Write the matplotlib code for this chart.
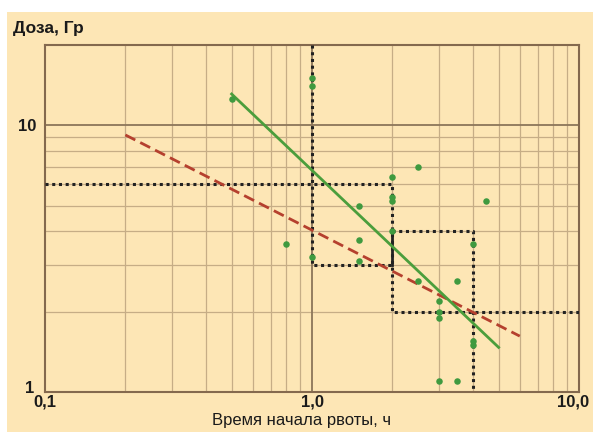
import matplotlib
matplotlib.use('Agg')
import matplotlib.pyplot as plt
from matplotlib.patches import Rectangle
from matplotlib.transforms import ScaledTranslation

plt.rcParams['font.family'] = ['Liberation Sans', 'DejaVu Sans']

# points: onset of vomiting (h) vs dose (Gy)
time_h = [0.5, 0.8, 1, 1, 1, 1.5, 1.5, 1.5, 2, 2, 2, 2, 2.5, 2.5,
          3, 3, 3, 3, 3.5, 3.5, 4, 4, 4, 4.5]
dose_gy = [12.5, 3.6, 15, 14, 3.2, 5.0, 3.7, 3.1, 6.4, 5.4, 5.2, 4.0, 7.0, 2.6,
           2.2, 2.0, 1.9, 1.1, 2.6, 1.1, 3.6, 1.5, 1.55, 5.2]

# regression lines (end points)
green_x = [0.5, 5.0]
green_y = [13.1, 1.47]
red_x = [0.2, 6.0]
red_y = [9.2, 1.62]

# dotted guide steps
step1_x, step1_y = [0.1, 2, 2, 10], [6, 6, 2, 2]
step2_x, step2_y = [1, 1, 2], [20, 3, 3]
step3_x, step3_y = [2, 4, 4], [4, 4, 1]
bar_x, bar_y = [2, 2], [3, 4]

xticks = [0.1, 1, 10]
xtick_labels = ['0,1', '1,0', '10,0']
yticks = [1, 10]
ytick_labels = ['1', '10']

bg = '#fde6b5'
fig = plt.figure(figsize=(5.93, 4.32), dpi=100, facecolor='white')
fig.patches.append(Rectangle((7 / 593, 0), 1, 1 - 12 / 432, transform=fig.transFigure,
                             facecolor=bg, edgecolor='none', zorder=-10))
ax = fig.add_axes([45 / 593, 40 / 432, 534 / 593, 347 / 432])
ax.set_facecolor(bg)
ax.set_xscale('log')
ax.set_yscale('log')
ax.set_xlim(0.1, 10)
ax.set_ylim(1, 20)

# grid
minor = [0.2, 0.3, 0.4, 0.5, 0.6, 0.7, 0.8, 0.9, 2, 3, 4, 5, 6, 7, 8, 9]
for v in minor:
    ax.axvline(v, color='#c6ad86', lw=0.9, zorder=1)
for v in [2, 3, 4, 5, 6, 7, 8, 9]:
    ax.axhline(v, color='#c6ad86', lw=0.9, zorder=1)
ax.axhline(10, color='#8c765a', lw=1.3, zorder=1)
ax.axvline(1, color='#8c765a', lw=1.3, zorder=1)

for s in ax.spines.values():
    s.set_color('#84694e')
    s.set_linewidth(1.5)

dot = dict(color='#222222', lw=2.2, ls=(0, (1, 1.2)), zorder=3)
ax.plot(step1_x, step1_y, **dot)
ax.plot(step2_x, step2_y, **dot)
ax.plot(step3_x, step3_y, **dot)
ax.plot(bar_x, bar_y, color='#222222', lw=2, zorder=3)

ax.plot(red_x, red_y, color='#b5402e', lw=2, ls=(0, (4, 2)), zorder=4)
ax.plot(green_x, green_y, color='#4b9e3c', lw=2, zorder=4)
ax.scatter(time_h, dose_gy, s=22, color='#3f9a3f', zorder=5, linewidths=0)

ax.set_xticks(xticks)
ax.set_xticklabels(xtick_labels)
ax.set_yticks(yticks)
ax.set_yticklabels(ytick_labels)
ax.minorticks_off()
ax.tick_params(length=0, labelsize=12, colors='#1a1a1a')
ax.tick_params(axis='x', pad=2)
ax.tick_params(axis='y', pad=6)
for lab in ax.get_xticklabels() + ax.get_yticklabels():
    lab.set_fontweight('bold')

# nudge edge labels like the original
xl = ax.get_xticklabels()
xl[-1].set_transform(xl[-1].get_transform() + ScaledTranslation(-6 / 100, 0, fig.dpi_scale_trans))
yl = ax.get_yticklabels()
yl[0].set_transform(yl[0].get_transform() + ScaledTranslation(-2 / 100, 5 / 100, fig.dpi_scale_trans))

fig.text(13 / 593, 1 - 29 / 432, 'Доза, Гр', fontsize=12.5, fontweight='bold', va='center', ha='left',
         color='#1a1a1a')
fig.text(302 / 593, 1 - 420 / 432, 'Время начала рвоты, ч', fontsize=12, va='center', ha='center',
         color='#1a1a1a')

fig.savefig('out.png', dpi=100, facecolor=fig.get_facecolor())
